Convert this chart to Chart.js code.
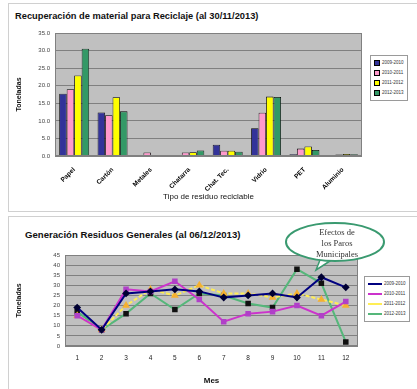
<!DOCTYPE html>
<html>
<head>
<meta charset="utf-8">
<script src="https://cdn.jsdelivr.net/npm/chart.js@4.4.1/dist/chart.umd.min.js"></script>
<style>
  body { margin: 0; background: #fff; width: 417px; height: 389px; overflow: hidden; position: relative; font-family: "Liberation Sans", Arial, sans-serif; }
  .caja { position: absolute; border: 1px solid #d0d0d0; }
  .titulo { position: absolute; font-weight: bold; color: #111; white-space: nowrap; }
  canvas { position: absolute; left: 0; }
  .leyenda { position: absolute; border: 1px solid #9a9a9a; background: #fff; font-size: 4.5px; color: #333; padding: 2px 3px; }
  .leyenda div { height: 10px; line-height: 10px; white-space: nowrap; }
  .cuadro { display: inline-block; width: 4px; height: 4px; border: 0.5px solid #000; margin-right: 2px; vertical-align: middle; }
  .linea { display: inline-block; width: 14px; height: 2px; margin-right: 2px; vertical-align: middle; }
  #globo { position: absolute; left: 280px; top: 220px; }
</style>
</head>
<body>
<div class="caja" style="left:8px; top:3px; width:420px; height:207px;"></div>
<div class="caja" style="left:8px; top:216px; width:420px; height:180px;"></div>
<div class="titulo" style="left:15px; top:11px; font-size:9.3px;">Recuperación de material para Reciclaje (al 30/11/2013)</div>
<div class="titulo" style="left:25px; top:229px; font-size:9.6px;">Generación Residuos Generales (al 06/12/2013)</div>
<canvas id="graficaBarras" width="417" height="208" style="top:0"></canvas>
<canvas id="graficaLineas" width="417" height="177" style="top:212px"></canvas>
<div class="leyenda" id="leyendaBarras" style="left:370px; top:55px;"></div>
<div class="leyenda" id="leyendaLineas" style="left:364px; top:276px;"></div>
<svg id="globo" width="110" height="52">
  <path d="M40 40 L36 50 L50 41 Z" fill="#fff" stroke="#3a9a70" stroke-width="1.5"/>
  <ellipse cx="55" cy="22" rx="49" ry="19" fill="#fff" stroke="#3a9a70" stroke-width="2"/>
  <text x="57" y="15" text-anchor="middle" font-family="Liberation Serif, serif" font-size="8.5" fill="#333">Efectos de</text>
  <text x="57" y="26" text-anchor="middle" font-family="Liberation Serif, serif" font-size="8.5" fill="#333">los Paros</text>
  <text x="57" y="37" text-anchor="middle" font-family="Liberation Serif, serif" font-size="8.5" fill="#333">Municipales</text>
</svg>
<script>
// datos grafica 1: recuperacion de material (toneladas)
const categorias = ["Papel", "Cartón", "Metales", "Chatarra", "Chat. Tec.", "Vidrio", "PET", "Aluminio"];
const periodos = ["2009-2010", "2010-2011", "2011-2012", "2012-2013"];
const recuperado1 = [17.7, 12.4, 0.3, 0.3, 3.2, 7.9, 0.5, 0.3];
const recuperado2 = [19.0, 11.6, 1.0, 1.0, 1.5, 12.3, 2.1, 0.4];
const recuperado3 = [22.9, 16.7, 0.2, 1.1, 1.5, 16.9, 2.7, 0.6];
const recuperado4 = [30.5, 12.7, 0.2, 1.6, 1.2, 16.8, 1.7, 0.5];
const ticksBarras = [0, 5, 10, 15, 20, 25, 30, 35];

// datos grafica 2: generacion de residuos por mes
const meses = ["1", "2", "3", "4", "5", "6", "7", "8", "9", "10", "11", "12"];
const generado1 = [19, 8, 26, 27, 28, 27, 24, 25, 26, 24, 34, 29];
const generado2 = [15, 8, 28, 27, 32, 23, 12, 16, 17, 20, 15, 22];
const generado3 = [15, 8, 20, 28, 25, 30, 26, 26, 24, 26, 23, 20];
const generado4 = [17, 8, 16, 26, 18, 26, 25, 21, 19, 38, 31, 2];
const ticksLineas = [0, 5, 10, 15, 20, 25, 30, 35, 40, 45];

const coloresBarras = ["#333399", "#FF99CC", "#FFFF00", "#339966"];
const coloresLineas = ["#000080", "#CC33CC", "#FFEE55", "#55B77A"];
const marcasLineas = ["#000033", "#B040C8", "#F5B030", "#111111"];
const estilosPunto = ["rectRot", "rect", "triangle", "rect"];

const fondoGris = {
  id: "fondoGris",
  beforeDraw(chart) {
    const a = chart.chartArea;
    const ctx = chart.ctx;
    ctx.save();
    ctx.fillStyle = "#C0C0C0";
    ctx.fillRect(a.left, a.top, a.right - a.left, a.bottom - a.top);
    ctx.restore();
  },
  afterDatasetsDraw(chart) {
    const a = chart.chartArea;
    const ctx = chart.ctx;
    ctx.save();
    ctx.strokeStyle = "#808080";
    ctx.lineWidth = 1;
    ctx.strokeRect(a.left + 0.5, a.top + 0.5, a.right - a.left - 1, a.bottom - a.top - 1);
    ctx.restore();
  }
};

const recuperados = [recuperado1, recuperado2, recuperado3, recuperado4];
new Chart(document.getElementById("graficaBarras").getContext("2d"), {
  type: "bar",
  data: {
    labels: categorias,
    datasets: recuperados.map((valores, i) => ({
      label: periodos[i],
      data: valores,
      backgroundColor: coloresBarras[i],
      borderColor: "#000",
      borderWidth: 0.8,
      categoryPercentage: 0.78,
      barPercentage: 1
    }))
  },
  options: {
    responsive: false,
    animation: false,
    layout: { padding: { top: 33, left: 15, right: 55, bottom: 6 } },
    plugins: { legend: { display: false }, tooltip: { enabled: false } },
    scales: {
      x: {
        grid: { display: false },
        border: { display: false },
        ticks: { color: "#000", font: { size: 6.5, weight: "bold" }, minRotation: 45, maxRotation: 45, autoSkip: false, padding: 2 },
        title: { display: true, text: "Tipo de residuo reciclable", color: "#111", font: { size: 8 }, padding: { top: 0, bottom: 0 } },
        afterFit(scale) { scale.height = 46; }
      },
      y: {
        min: 0,
        max: 35,
        afterBuildTicks(scale) { scale.ticks = ticksBarras.map(v => ({ value: v })); },
        grid: { color: "#808080", drawTicks: false },
        border: { display: false },
        ticks: { color: "#444", font: { size: 6 }, padding: 5, autoSkip: false, callback: v => v.toFixed(1) },
        title: { display: true, text: "Toneladas", color: "#111", font: { size: 7, weight: "bold" }, padding: 0 },
        afterFit(scale) { scale.width = 40; }
      }
    }
  },
  plugins: [fondoGris]
});

const generados = [generado1, generado2, generado3, generado4];
new Chart(document.getElementById("graficaLineas").getContext("2d"), {
  type: "line",
  data: {
    labels: meses,
    datasets: generados.map((valores, i) => ({
      label: periodos[i],
      data: valores,
      borderColor: coloresLineas[i],
      backgroundColor: marcasLineas[i],
      pointBorderColor: marcasLineas[i],
      pointStyle: estilosPunto[i],
      pointRadius: 2.5,
      borderWidth: 2,
      borderDash: i === 2 ? [4, 2] : [],
      tension: 0
    }))
  },
  options: {
    responsive: false,
    animation: false,
    layout: { padding: { top: 43, left: 15, right: 59, bottom: 3 } },
    plugins: { legend: { display: false }, tooltip: { enabled: false } },
    scales: {
      x: {
        offset: true,
        grid: { display: false },
        border: { display: false },
        ticks: { color: "#222", font: { size: 6.5 }, padding: 0, maxRotation: 0 },
        title: { display: true, text: "Mes", color: "#111", font: { size: 8, weight: "bold" }, padding: { top: 8, bottom: 0 } },
        afterFit(scale) { scale.height = 40; }
      },
      y: {
        min: 0,
        max: 45,
        afterBuildTicks(scale) { scale.ticks = ticksLineas.map(v => ({ value: v })); },
        grid: { color: "#808080", drawTicks: false },
        border: { display: false },
        ticks: { color: "#444", font: { size: 6 }, padding: 5, autoSkip: false },
        title: { display: true, text: "Toneladas", color: "#111", font: { size: 7, weight: "bold" }, padding: 0 },
        afterFit(scale) { scale.width = 50; }
      }
    }
  },
  plugins: [fondoGris]
});

// leyendas hechas a mano para imitar el recuadro de Excel
document.getElementById("leyendaBarras").innerHTML = periodos
  .map((p, i) => `<div><span class="cuadro" style="background:${coloresBarras[i]}"></span>${p}</div>`)
  .join("");
document.getElementById("leyendaLineas").innerHTML = periodos
  .map((p, i) => `<div><span class="linea" style="background:${coloresLineas[i]}"></span>${p}</div>`)
  .join("");
</script>
</body>
</html>
